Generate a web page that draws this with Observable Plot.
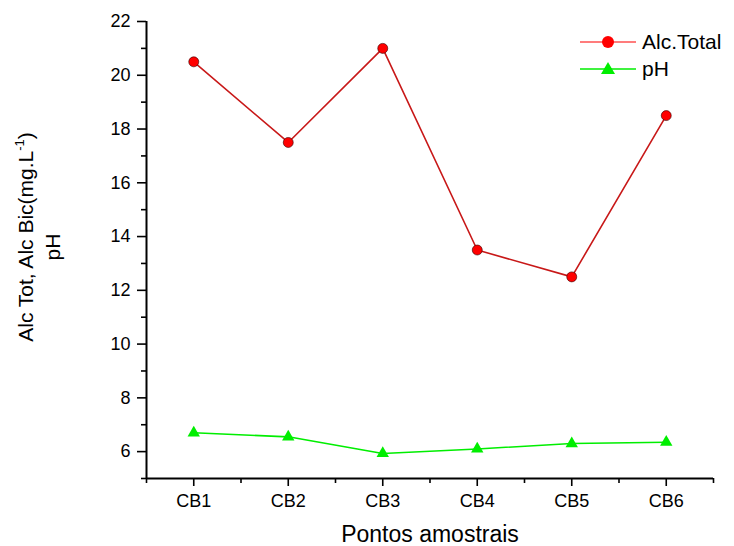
<!DOCTYPE html>
<html>
<head>
<meta charset="utf-8">
<script src="https://cdn.jsdelivr.net/npm/d3@7"></script>
<script src="https://cdn.jsdelivr.net/npm/@observablehq/plot@0.6"></script>
<style>
  html, body { margin: 0; padding: 0; background: #fff; }
  #wrap { position: relative; width: 734px; height: 546px; font-family: "Liberation Sans", Arial, sans-serif; }
  #legend { position: absolute; left: 578px; top: 28px; font-size: 21px; color: #000; line-height: 1; }
  #legend .row { display: flex; align-items: center; height: 27px; }
  #legend svg { margin-right: 4px; }
</style>
</head>
<body>
<div id="wrap"></div>
<script>
// Data
const categories = ["CB1", "CB2", "CB3", "CB4", "CB5", "CB6"];
const alcTotal = [20.5, 17.5, 21.0, 13.5, 12.5, 18.5];
const pH = [6.7, 6.55, 5.93, 6.1, 6.3, 6.35];
const yMajorTicks = [6, 8, 10, 12, 14, 16, 18, 20, 22];
const yMinorTicks = [5, 7, 9, 11, 13, 15, 17, 19, 21];
const seriesNames = ["Alc.Total", "pH"];

const idx = categories.map((_, i) => i + 1);
const xMinor = d3.range(0.5, categories.length + 1, 1);
const alcData = categories.map((c, i) => ({x: i + 1, y: alcTotal[i]}));
const phData = categories.map((c, i) => ({x: i + 1, y: pH[i]}));

const lineRed = "#c81818";
const markRed = "#ff0000";
const green = "#00ee00";

const plot = Plot.plot({
  width: 734,
  height: 546,
  marginLeft: 146,
  marginRight: 21,
  marginTop: 21,
  marginBottom: 68,
  style: {fontFamily: "Liberation Sans, Arial, sans-serif", background: "white", overflow: "visible"},
  x: {domain: [0.5, categories.length + 0.5], axis: null},
  y: {domain: [5, 22], axis: null},
  marks: [
    Plot.axisY({ticks: yMinorTicks, tickSize: 5, tickFormat: () => "", strokeWidth: 1.6, label: null}),
    Plot.axisY({ticks: yMajorTicks, tickSize: 9, tickPadding: 7, fontSize: 18, strokeWidth: 1.6, color: "#000", label: null}),
    Plot.axisX({ticks: xMinor, tickSize: 5, tickFormat: () => "", strokeWidth: 1.6, label: null}),
    Plot.axisX({ticks: idx, tickSize: 8, tickPadding: 8, fontSize: 18, strokeWidth: 1.6, label: null,
      tickFormat: d => categories[d - 1]}),
    Plot.ruleX([0.5], {stroke: "#000", strokeWidth: 2}),
    Plot.ruleY([5], {stroke: "#000", strokeWidth: 2}),
    Plot.line(alcData, {x: "x", y: "y", stroke: lineRed, strokeWidth: 1.6}),
    Plot.dot(alcData, {x: "x", y: "y", r: 5, fill: markRed, stroke: "#300", strokeWidth: 0.6, symbol: "circle"}),
    Plot.line(phData, {x: "x", y: "y", stroke: green, strokeWidth: 1.6}),
    Plot.dot(phData, {x: "x", y: "y", r: 4.6, fill: green, stroke: "none", symbol: "triangle"})
  ]
});

const svg = d3.select(plot);
const yl = svg.append("text")
  .attr("transform", "translate(33,237) rotate(-90)")
  .attr("text-anchor", "middle")
  .attr("font-size", 21)
  .attr("fill", "#000");
yl.append("tspan").text("Alc Tot, Alc Bic(mg.L");
yl.append("tspan").attr("dy", -9).attr("font-size", 13).text("-1");
yl.append("tspan").attr("dy", 9).text(")");
svg.append("text")
  .attr("transform", "translate(60,247) rotate(-90)")
  .attr("text-anchor", "middle")
  .attr("font-size", 21)
  .attr("fill", "#000")
  .text("pH");
svg.append("text")
  .attr("x", 430).attr("y", 542)
  .attr("text-anchor", "middle")
  .attr("font-size", 23)
  .attr("fill", "#000")
  .text("Pontos amostrais");

const wrap = document.getElementById("wrap");
wrap.appendChild(plot);

const legend = document.createElement("div");
legend.id = "legend";
const legendStyles = [
  {line: "#ff5050", fill: markRed, sym: "circle"},
  {line: green, fill: green, sym: "triangle"}
];
seriesNames.forEach((name, i) => {
  const row = document.createElement("div");
  row.className = "row";
  const s = legendStyles[i];
  const sym = s.sym === "circle"
    ? `<circle cx="30" cy="10" r="6" fill="${s.fill}"/>`
    : `<path d="M30,3 L37,15 L23,15 Z" fill="${s.fill}"/>`;
  row.innerHTML = `<svg width="60" height="20"><line x1="2" x2="58" y1="10" y2="10" stroke="${s.line}" stroke-width="1.5"/>${sym}</svg><span>${name}</span>`;
  legend.appendChild(row);
});
wrap.appendChild(legend);
</script>
</body>
</html>
